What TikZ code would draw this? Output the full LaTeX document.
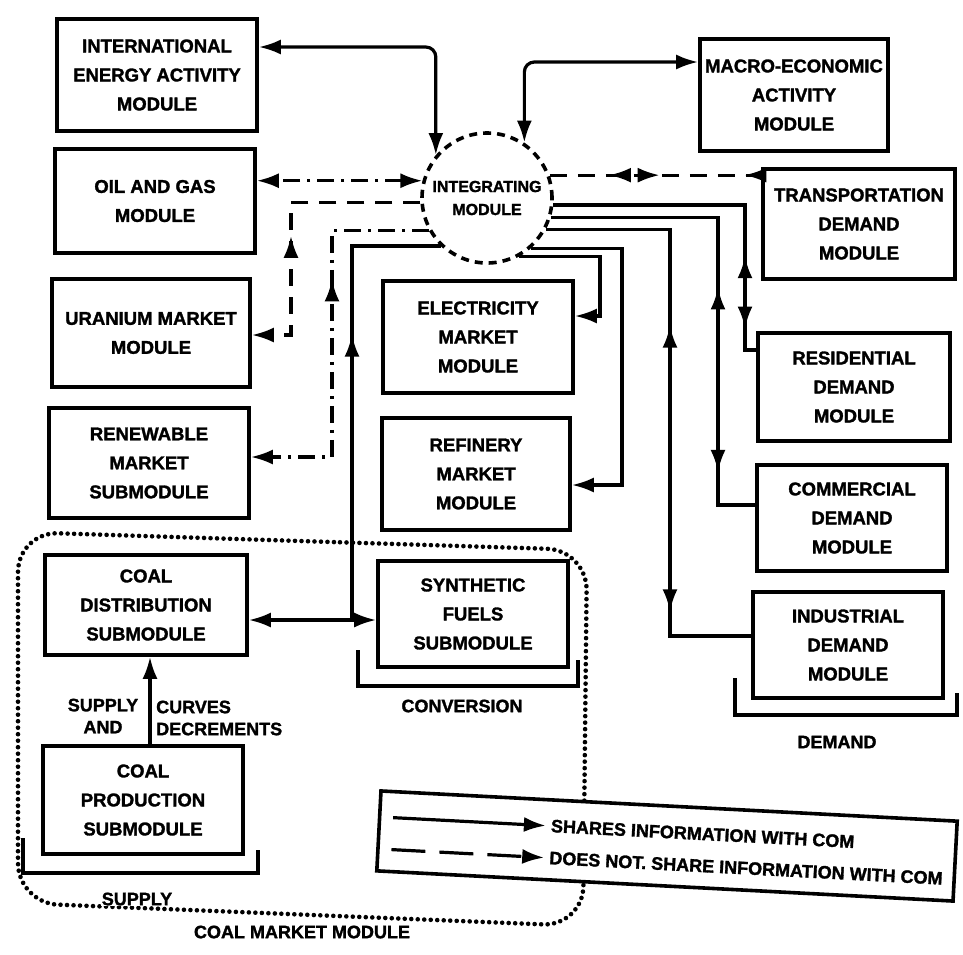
\documentclass[tikz,border=0pt]{standalone}
\usepackage{fontspec}
\setmainfont{Liberation Sans}[BoldFeatures={FakeBold=1.6}]
\usetikzlibrary{arrows.meta,decorations.markings,calc}
\begin{document}
\begin{tikzpicture}[x=1pt,y=-1pt,
  Ar/.tip={Latex[length=22pt,width=15pt]},
  bx/.style 2 args={draw, line width=3.6pt, align=center, minimum width=#1pt, minimum height=#2pt, inner sep=0pt, font=\bfseries\fontsize{18.5}{29}\selectfont},
  conn/.style={line width=3.2pt},
  dsh/.style={line width=3.2pt, dash pattern=on 17pt off 11pt},
  dshdot/.style={line width=3.2pt, dash pattern=on 17pt off 7pt on 3pt off 7pt},
  fwd/.style={postaction={decorate,decoration={markings,mark=at position #1 with {\arrow{Ar}}}}},
  bwd/.style={postaction={decorate,decoration={markings,mark=at position #1 with {\arrowreversed{Ar}}}}},
  lbl/.style={font=\bfseries\fontsize{18}{22}\selectfont, align=center, inner sep=1pt},
  bracket/.style={line width=3.2pt},
  cmm/.style={line width=4.6pt, dash pattern=on 0pt off 6.5pt, line cap=round, rounded corners=40pt}
]
\useasboundingbox (0,0) rectangle (963,954);

% coal market module (dotted)
\draw[cmm] (300,541) -- (587,550) -- (583,926) -- (18,903) -- (18,532) -- cycle;

% boxes
\node[bx={200}{112}] (intl) at (157,75) {INTERNATIONAL\\ENERGY ACTIVITY\\MODULE};
\node[bx={200}{104}] (oil) at (155,201) {OIL AND GAS\\MODULE};
\node[bx={198}{108}] (ura) at (151,333) {URANIUM MARKET\\MODULE};
\node[bx={200}{110}] (ren) at (149,463) {RENEWABLE\\MARKET\\SUBMODULE};
\node[bx={202}{100}, fill=white] (cdist) at (146,605) {COAL\\DISTRIBUTION\\SUBMODULE};
\node[bx={200}{108}] (cprod) at (143,800) {COAL\\PRODUCTION\\SUBMODULE};
\node[bx={190}{112}] (elec) at (478,337) {ELECTRICITY\\MARKET\\MODULE};
\node[bx={188}{112}] (refin) at (476,474) {REFINERY\\MARKET\\MODULE};
\node[bx={190}{106}] (synth) at (473,614) {SYNTHETIC\\FUELS\\SUBMODULE};
\node[bx={188}{112}] (macro) at (794,95) {MACRO-ECONOMIC\\ACTIVITY\\MODULE};
\node[bx={192}{110}] (trans) at (859,224) {TRANSPORTATION\\DEMAND\\MODULE};
\node[bx={192}{108}] (res) at (854,387) {RESIDENTIAL\\DEMAND\\MODULE};
\node[bx={190}{106}] (com) at (852,518) {COMMERCIAL\\DEMAND\\MODULE};
\node[bx={190}{106}] (ind) at (848,645) {INDUSTRIAL\\DEMAND\\MODULE};
\node[circle, draw, line width=3.6pt, dash pattern=on 8pt off 6pt, minimum size=130pt, inner sep=0pt, align=center, font=\bfseries\fontsize{16}{23}\selectfont] (integ) at (487,198) {INTEGRATING\\MODULE};

% connectors
\draw[conn, {Ar}-{Ar}, rounded corners=10pt] (intl.east |- 0,47) -| (integ.140);
\draw[conn, {Ar}-{Ar}, rounded corners=10pt] (integ.56) |- (macro.west |- 0,62);
\draw[dshdot, {Ar}-{Ar}] (integ.165) -- (integ.165 -| oil.east);
\draw[dsh, bwd=0.28, fwd=0.52, bwd=0.92] (integ.20) -- (integ.20 -| trans.west);
\draw[dsh, -{Ar}, bwd=0.54] (integ.184) -| (291,335) -- (ura.east |- 0,335);
\draw[dshdot, -{Ar}, bwd=0.36] (integ.209) -| (332,457) -- (ren.east |- 0,457);
\coordinate (cs) at (352,620);
\draw[conn, {Ar}-{Ar}] (cdist.east |- cs) -- (synth.west |- cs);
\draw[conn, bwd=0.383] (integ.226) -| (cs);
\draw[conn, -{Ar}] (integ.299) -| (600,316) -- (elec.east |- 0,316);
\draw[conn, -{Ar}] (integ.311) -| (622,485) -- (refin.east |- 0,485);
\draw[conn, bwd=0.36, fwd=0.827] (integ.332) -| (670,636) -- (ind.west |- 0,636);
\draw[conn, bwd=0.482, fwd=0.857] (integ.343) -| (718,505) -- (com.west |- 0,505);
\draw[conn, bwd=0.698, fwd=0.906] (integ.354) -| (745,350) -- (res.west |- 0,350);
\draw[conn, -{Ar}] (cprod.north -| 150,0) -- (cdist.south -| 150,0);

% labels
\node[lbl] (sa) at (103,716) {SUPPLY\\AND};
\node[lbl, align=left, anchor=west] (cd) at (155,718) {CURVES\\DECREMENTS};

% brackets
\draw[bracket] (23,838) -- (23,873) -- (258,873) -- (258,850);
\draw[bracket] (358,650) -- (358,686) -- (578,686) -- (578,660);
\draw[bracket] (735,678) -- (735,715) -- (957,715) -- (957,693);
\node[lbl, fill=white] (sup) at (137,899) {SUPPLY};
\node[lbl] (conv) at (462,706) {CONVERSION};
\node[lbl] (dem) at (837,742) {DEMAND};
\node[lbl] (cmmlbl) at (302,932) {COAL MARKET MODULE};

% legend
\begin{scope}[shift={(667,846)}, rotate=-3, transform shape]
  \node[draw, line width=3.6pt, fill=white, minimum width=577pt, minimum height=80pt] (leg) at (0,0) {};
  \node[lbl, anchor=west, inner sep=5pt] (lt1) at (-122,-14) {SHARES INFORMATION WITH COM};
  \node[lbl, anchor=west, inner sep=5pt] (lt2) at (-122,18) {DOES NOT. SHARE INFORMATION WITH COM};
  \coordinate (ls1) at (-275,-14);
  \coordinate (ls2) at (-275,18);
  \draw[conn, -{Ar}] (ls1) -- (lt1.west);
  \draw[line width=3.2pt, dash pattern=on 34pt off 14pt, -{Ar}] (ls2) -- (lt2.west);
\end{scope}
\end{tikzpicture}
\end{document}
